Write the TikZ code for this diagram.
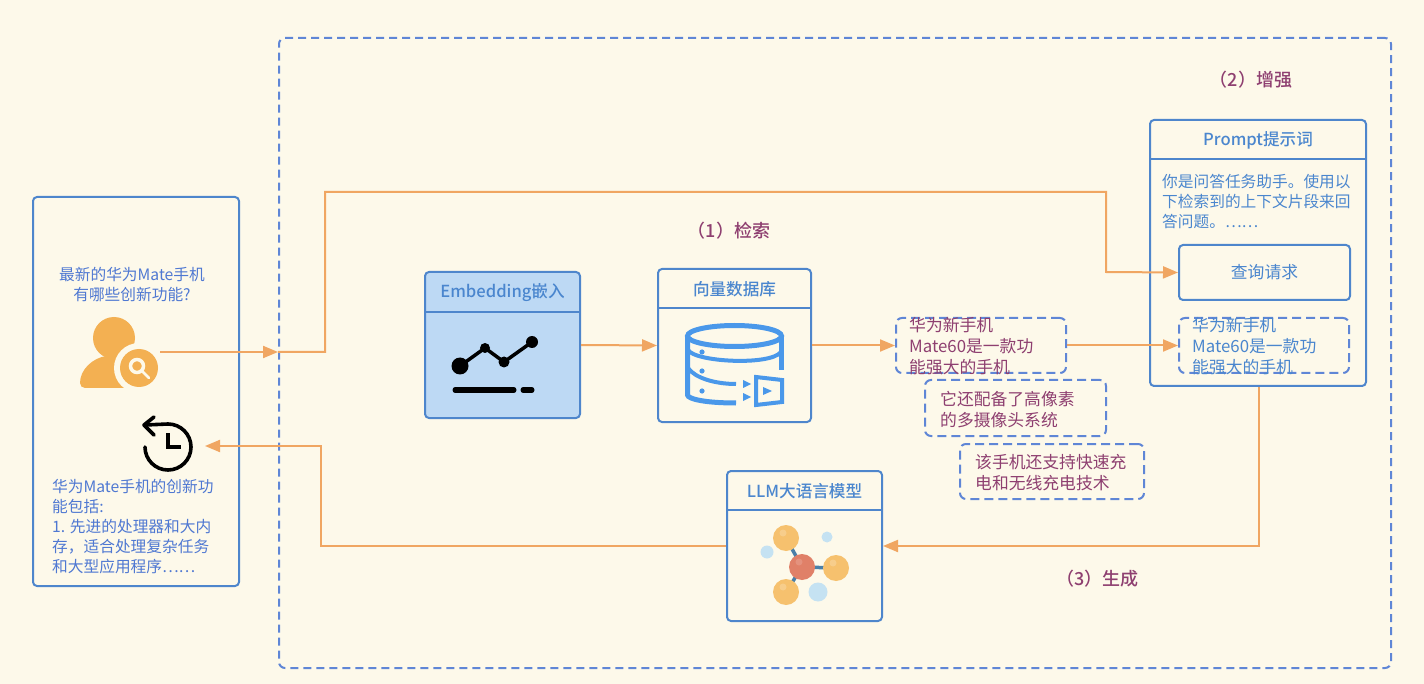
\documentclass[tikz,border=0pt]{standalone}
\usepackage{fontspec}
\setmainfont{Noto Sans CJK SC}
\newfontfamily\medfont{Noto Sans CJK SC Medium}
\usetikzlibrary{arrows.meta}
\definecolor{paper}{HTML}{FDF9EA}
\definecolor{boxblue}{HTML}{4E86CC}
\definecolor{dashblue}{HTML}{5F86D6}
\definecolor{textblue}{HTML}{4F78D2}
\definecolor{titleblue}{HTML}{4A86CE}
\definecolor{plum}{HTML}{8E3F70}
\definecolor{flowline}{HTML}{F0A662}
\definecolor{iconblue}{HTML}{4A98EA}
\definecolor{usericon}{HTML}{F3B052}
\definecolor{embedfill}{HTML}{BDD9F4}
\definecolor{atomorange}{HTML}{F6C16E}
\definecolor{atomred}{HTML}{E08068}
\definecolor{atomblue}{HTML}{C5E2F2}
\definecolor{bondblue}{HTML}{4A7FA8}
\begin{document}
\begin{tikzpicture}[x=1pt, y=-1pt,
	card/.style={draw=boxblue, line width=2pt, rounded corners=4pt, inner sep=0pt},
	chunk/.style={draw=dashblue, line width=2pt, rounded corners=6pt, dash pattern=on 9pt off 5pt, inner sep=0pt},
	title/.style={text=titleblue, font=\medfont\fontsize{16.6}{20}\selectfont, inner sep=0pt},
	said/.style={text=textblue, font=\fontsize{15.7}{20}\selectfont, align=left, inner sep=0pt},
	chunktext/.style={text=plum, font=\fontsize{16.8}{21}\selectfont, align=left, inner sep=0pt},
	step label/.style={text=plum, font=\medfont\fontsize{18}{20}\selectfont, inner sep=0pt},
	flow/.style={draw=flowline, line width=2pt, -{Triangle[length=15pt, width=12pt]}},
	]
	\fill[paper] (0,0) rectangle (1424,684);
	\useasboundingbox (0,0) rectangle (1424,684);
	\node[chunk, dash pattern=on 8pt off 5pt, minimum width=1112pt, minimum height=630pt] (rag) at (835,353) {};
	% left panel
	\node[card, minimum width=206pt, minimum height=389pt] (chat) at (136,391.5) {};
	\node[said, align=center] (question) at (132,284.5) {最新的华为Mate手机\\有哪些创新功能?};
	\node[said, anchor=north west] (answer) at (52,479) {华为Mate手机的创新功\\能包括:\\1. 先进的处理器和大内\\存，适合处理复杂任务\\和大型应用程序……};
	% cards
	\node[card, fill=embedfill, minimum width=155pt, minimum height=146pt] (embed) at (502.5,345) {};
	\node[card, minimum width=153pt, minimum height=153pt] (vectordb) at (734.5,345.5) {};
	\node[card, minimum width=155pt, minimum height=150pt] (llm) at (804.5,546) {};
	\node[card, minimum width=216pt, minimum height=266pt] (prompt) at (1258,253) {};
	\draw[boxblue, line width=2pt] (425,312) -- (580,312);
	\draw[boxblue, line width=2pt] (658,308) -- (811,308);
	\draw[boxblue, line width=2pt] (727,510) -- (882,510);
	\draw[boxblue, line width=2pt] (1150,159) -- (1366,159);
	\node[title] (embed title) at (502.5,293) {Embedding嵌入};
	\node[title] (vectordb title) at (734.5,289) {向量数据库};
	\node[title] (llm title) at (804.5,491) {LLM大语言模型};
	\node[title] (prompt title) at (1258,140) {Prompt提示词};
	\node[said, text=titleblue, anchor=north west] (prompt text) at (1162,174) {你是问答任务助手。使用以\\下检索到的上下文片段来回\\答问题。……};
	\node[card, minimum width=171pt, minimum height=55pt, text=titleblue, font=\fontsize{16.8}{20}\selectfont] (query) at (1264.5,272.5) {查询请求};
	% retrieved chunks
	\node[chunk, minimum width=170pt, minimum height=55pt] (chunk a) at (981,345.5) {};
	\node[chunktext, anchor=west] (chunk a text) at (909,346.5) {华为新手机\\Mate60是一款功\\能强大的手机};
	\node[chunk, minimum width=181pt, minimum height=56pt] (chunk b) at (1015.5,408) {};
	\node[chunktext, anchor=west] (chunk b text) at (940,409.5) {它还配备了高像素\\的多摄像头系统};
	\node[chunk, minimum width=184pt, minimum height=55pt] (chunk c) at (1052,471.5) {};
	\node[chunktext, anchor=west] (chunk c text) at (975,472.5) {该手机还支持快速充\\电和无线充电技术};
	\node[chunk, minimum width=170pt, minimum height=55pt] (chunk p) at (1264,345.5) {};
	\node[chunktext, text=titleblue, anchor=west] (chunk p text) at (1192,346.5) {华为新手机\\Mate60是一款功\\能强大的手机};
	\node[step label] (retrieve) at (729,230.5) {（1）检索};
	\node[step label] (augment) at (1251,79.5) {（2）增强};
	\node[step label] (generate) at (1097.5,578.5) {（3）生成};
	% user icon
	\coordinate (user) at (160,352);
	\coordinate (gate) at (278,352);
	\coordinate (history) at (205,446);
	\fill[usericon] (114,338) circle[radius=21pt];
	\fill[usericon, rounded corners=5pt] (80,388) .. controls (80,370) and (92,358) .. (112,355) -- (135,355) -- (135,388) -- cycle;
	\fill[paper] (139,368) circle[radius=25pt];
	\fill[usericon] (139,368) circle[radius=19pt];
	\draw[paper, line width=3.5pt] (137,366) circle[radius=6.5pt];
	\draw[paper, line width=2.5pt, line cap=round] (142,371) -- (149,378);
	% history icon
	\draw[black, line width=3.6pt, line cap=round] (145,447) arc[start angle=180, end angle=450, radius=23pt] -- (145,425);
	\draw[black, line width=3.6pt, line cap=round, line join=round] (154,417) -- (144,425) -- (154,435);
	\draw[black, line width=3.6pt, line join=miter] (168,433) -- (168,447) -- (181,447);
	% chart icon
	\draw[black, line width=3.5pt] (460,366) -- (485,348) -- (504,362) -- (532,342);
	\foreach \px/\py/\pr in {460/366/8.5, 485/348/5, 504/362/5.5, 532/342/6}
		\fill[black] (\px,\py) circle[radius=\pr pt];
	\draw[black, line width=5pt, line cap=round] (455,390) -- (514,390);
	\draw[black, line width=5pt, line cap=round] (523,390) -- (532,390);
	% database icon
	\draw[iconblue, line width=5pt] (734.5,336) ellipse[x radius=47pt, y radius=10.5pt];
	\draw[iconblue, line width=5pt] (781.5,336) -- (781.5,370);
	\draw[iconblue, line width=5pt] (687.5,336) -- (687.5,395) .. controls (688,399) and (705,403) .. (736,403);
	\draw[iconblue, line width=4pt] (688,350) .. controls (695,362) and (770,366) .. (781,352);
	\draw[iconblue, line width=4pt] (688,368) .. controls (695,378) and (715,384) .. (736,384);
	\foreach \py in {352,371,391}
		\fill[iconblue] (702,\py) circle[radius=2.6pt];
	\foreach \py in {384,397}
		\fill[iconblue] (743,\py-4) -- (751,\py) -- (743,\py+4) -- cycle;
	\draw[iconblue, line width=4pt] (756,377) -- (782,380) -- (782,402) -- (756,405) -- cycle;
	\fill[iconblue] (763,387) -- (772,391) -- (763,395) -- cycle;
	% molecule icon
	\draw[bondblue, line width=3.5pt] (802,567) -- (786,538);
	\draw[bondblue, line width=3.5pt] (802,567) -- (836,568);
	\draw[bondblue, line width=3.5pt] (802,567) -- (786,592);
	\foreach \px/\py/\pr in {767/552/6.5, 827/537/5.5, 818/592/9.5}
		\fill[atomblue] (\px,\py) circle[radius=\pr pt];
	\foreach \px/\py in {786/538, 836/568, 786/592}{
		\fill[atomorange] (\px,\py) circle[radius=13pt];
		\fill[white, opacity=.2] (\px-3,\py-5) circle[radius=3.5pt];
	}
	\fill[atomred] (802,567) circle[radius=13pt];
	\fill[white, opacity=.15] (799,562) circle[radius=3.5pt];
	% connectors
	\draw[flow] (user) -- (gate);
	\draw[flow] (gate) -- (325,352) -- (325,192) -- (1106,192) -- (1106,272) -- (query.west);
	\draw[flow] (embed.east) -- (vectordb.west);
	\draw[flow] (vectordb.east) -- (chunk a.west);
	\draw[flow] (chunk a.east) -- (chunk p.west);
	\draw[flow] (prompt.south -| 1259,0) -- (1259,546) -- (llm.east);
	\draw[flow] (llm.west) -- (321,546) -- (321,446) -- (history);
\end{tikzpicture}
\end{document}
